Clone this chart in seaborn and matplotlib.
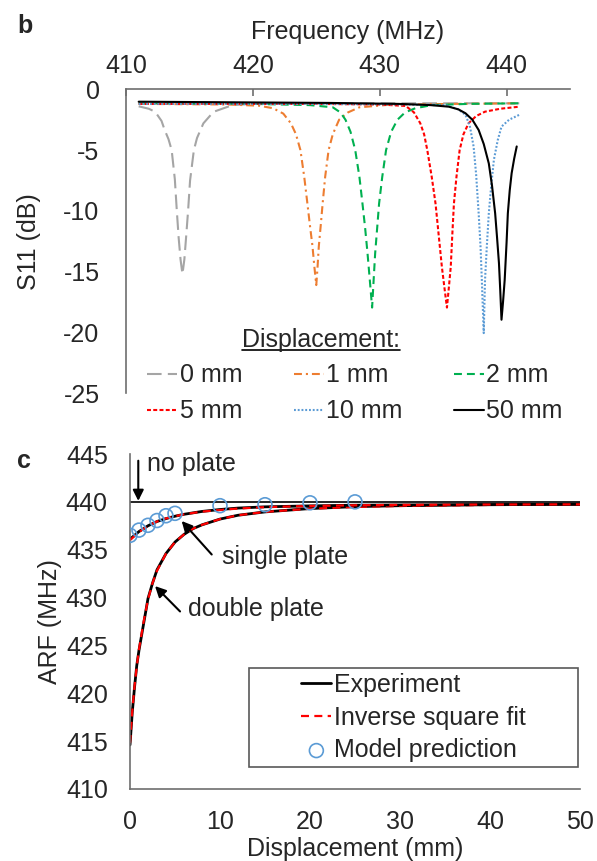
import numpy as np
import pandas as pd
import seaborn as sns
import matplotlib.pyplot as plt
from matplotlib.lines import Line2D
from matplotlib.patches import Rectangle

# ---- panel b : S11 vs frequency for each displacement ----
f_0mm = [411.0, 411.8, 412.3, 412.8, 413.05, 413.35, 413.6, 413.85, 414.0, 414.15, 414.3, 414.45,
         414.6, 414.75, 414.9, 415.05, 415.35, 415.6, 416.1, 416.9, 418.4, 420.0, 430.0, 441.0]
s_0mm = [-1.4, -1.6, -1.85, -2.6, -3.35, -4.1, -5.0, -7.4, -9.9, -12.2, -14.0, -15.2,
         -14.0, -12.0, -9.9, -7.5, -5.0, -4.0, -2.8, -1.85, -1.3, -1.2, -1.15, -1.15]

f_1mm = [411.0, 418.0, 420.5, 421.6, 422.4, 423.0, 423.4, 423.75, 424.05, 424.3, 424.5, 424.7, 424.85,
         425.0, 425.1, 425.2, 425.35, 425.5, 425.7, 425.97, 426.3, 426.8, 427.5, 428.4, 431.0, 441.0]
s_1mm = [-1.2, -1.25, -1.35, -1.56, -2.0, -2.8, -3.7, -5.0, -7.2, -9.4, -11.2, -12.9, -14.6,
         -16.1, -14.6, -12.9, -11.2, -9.4, -7.2, -5.0, -3.7, -2.5, -1.9, -1.48, -1.25, -1.15]

f_2mm = [411.0, 420.0, 424.5, 426.3, 426.9, 427.3, 427.7, 428.07, 428.4, 428.64, 428.85, 429.04, 429.22,
         429.4, 429.52, 429.64, 429.8, 429.95, 430.2, 430.5, 430.9, 431.4, 432.0, 432.8, 434.1, 437.0, 441.0]
s_2mm = [-1.15, -1.2, -1.3, -1.48, -1.9, -2.5, -3.5, -5.0, -7.2, -9.4, -11.4, -13.5, -15.7,
         -17.95, -15.7, -13.5, -11.4, -9.4, -7.2, -5.0, -3.5, -2.5, -1.9, -1.56, -1.3, -1.2, -1.15]

f_5mm = [411.0, 425.0, 430.0, 432.05, 432.7, 433.2, 433.5, 433.75, 434.1, 434.4, 434.65, 434.9, 435.1,
         435.3, 435.45, 435.6, 435.72, 435.85, 436.05, 436.3, 436.6, 437.0, 437.6, 438.3, 439.5, 441.0]
s_5mm = [-1.2, -1.2, -1.25, -1.37, -1.9, -2.8, -3.7, -5.0, -7.2, -9.4, -12.0, -14.6, -16.3,
         -17.95, -16.3, -14.6, -12.0, -9.4, -7.2, -5.0, -3.7, -2.8, -2.2, -1.84, -1.6, -1.43]

f_10mm = [411.0, 425.0, 432.0, 435.2, 436.2, 436.76, 437.1, 437.4, 437.6, 437.8, 437.95, 438.05,
          438.2, 438.3, 438.45, 438.6, 438.8, 439.0, 439.3, 439.6, 440.2, 441.0]
s_10mm = [-1.2, -1.2, -1.25, -1.3, -1.65, -2.1, -3.0, -4.7, -7.0, -10.2, -13.0, -15.7,
          -20.05, -15.7, -12.8, -10.2, -7.8, -5.8, -4.2, -3.07, -2.5, -2.1]

f_50mm = [411.0, 420.0, 426.0, 431.5, 434.0, 435.45, 436.2, 436.76, 437.3, 437.8, 438.2, 438.6, 438.85,
          439.1, 439.25, 439.4, 439.5, 439.6, 439.72, 439.85, 440.0, 440.1, 440.25, 440.4, 440.6, 440.8]
s_50mm = [-1.02, -1.08, -1.12, -1.2, -1.3, -1.43, -1.65, -1.97, -2.5, -3.35, -4.5, -6.1, -7.9,
          -10.2, -12.2, -14.3, -16.5, -18.95, -17.5, -15.7, -12.6, -10.2, -8.3, -6.9, -5.7, -4.7]

labels_b = ['0 mm', '1 mm', '2 mm', '5 mm', '10 mm', '50 mm']

# ---- panel c : ARF vs displacement ----
noplate_x = [0, 50]
noplate_y = [440.0, 440.0]

single_x = [0, 1, 2, 3, 4, 5, 6, 8, 10, 12, 15, 20, 25, 30, 40, 50]
single_exp = [436.1, 436.9, 437.5, 437.95, 438.25, 438.5, 438.7, 439.0, 439.2, 439.35, 439.48,
              439.58, 439.65, 439.68, 439.72, 439.75]
single_fit = [436.0, 436.85, 437.5, 437.95, 438.27, 438.5, 438.7, 438.98, 439.15, 439.3, 439.45,
              439.57, 439.64, 439.68, 439.72, 439.74]

double_x = [0, 0.25, 0.5, 0.75, 1, 1.5, 2, 2.5, 3, 4, 5, 6, 7, 8, 10, 12, 15, 20, 25, 30, 40, 50]
double_exp = [414.6, 418.0, 420.6, 422.9, 424.5, 427.2, 429.9, 431.5, 432.9, 434.6, 435.8, 436.6,
              437.2, 437.6, 438.2, 438.6, 438.95, 439.3, 439.5, 439.6, 439.7, 439.75]
double_fit = [414.8, 418.1, 420.7, 422.8, 424.6, 427.4, 429.8, 431.5, 432.8, 434.6, 435.8, 436.6,
              437.2, 437.6, 438.2, 438.6, 438.95, 439.28, 439.47, 439.57, 439.68, 439.73]

model_x = [0, 1, 2, 3, 4, 5, 10, 15, 20, 25]
model_y = [436.5, 437.05, 437.55, 438.05, 438.55, 438.8, 439.6, 439.7, 439.9, 440.0]

sns.set_theme(style='white')
plt.rcParams['font.family'] = ['Liberation Sans', 'DejaVu Sans']
plt.rcParams['font.size'] = 18
plt.rcParams['axes.unicode_minus'] = False
spine_col = '#6e6e6e'

fig = plt.figure(figsize=(5.97, 8.61), dpi=100)
W, H = 597, 861
ax1 = fig.add_axes([126 / W, 1 - 393.3 / H, 444 / W, 304 / H])
ax2 = fig.add_axes([130 / W, 1 - 789 / H, 450 / W, 335 / H])

# panel b curves
styles_b = [
    (f_0mm, s_0mm, '#a5a5a5', (0, (7.0, 3.0))),
    (f_1mm, s_1mm, '#ed7d31', (0, (3.8, 1.9, 1.0, 1.9))),
    (f_2mm, s_2mm, '#00b050', (0, (3.8, 2.4))),
    (f_5mm, s_5mm, '#ff0000', (0, (1.9, 1.1))),
    (f_10mm, s_10mm, '#5b9bd5', (0, (0.9, 0.9))),
    (f_50mm, s_50mm, 'black', '-'),
]
handles_b = []
for (fx, sy, col, ls), lab in zip(styles_b, labels_b):
    sns.lineplot(x=fx, y=sy, ax=ax1, color=col, linestyle=ls, lw=1.5)
    ln = ax1.lines[-1]
    ln.set_label(lab)
    handles_b.append(ln)

ax1.set_xlim(410, 445)
ax1.set_ylim(-25, 0)
ax1.set_xticks([410, 420, 430, 440])
ax1.set_yticks([0, -5, -10, -15, -20, -25])
ax1.xaxis.tick_top()
ax1.xaxis.set_label_position('top')
ax1.set_xlabel('Frequency (MHz)', fontsize=18, labelpad=11)
ax1.set_ylabel('S11 (dB)', fontsize=18, labelpad=16)
for s in ['bottom', 'right']:
    ax1.spines[s].set_visible(False)
for s in ['top', 'left']:
    ax1.spines[s].set_color(spine_col)
    ax1.spines[s].set_linewidth(1.2)
ax1.tick_params(axis='x', direction='in', length=5, width=1.2, color=spine_col, pad=8,
                labelsize=18, top=True, bottom=False)
ax1.tick_params(axis='y', direction='in', length=5, width=1.2, color=spine_col, pad=19, labelsize=18)

order = [0, 3, 1, 4, 2, 5]
leg1 = ax1.legend([handles_b[i] for i in order], [labels_b[i] for i in order], ncol=3,
                  loc='center', bbox_to_anchor=(0.516, 0.0), frameon=False, fontsize=18,
                  handlelength=1.2, handletextpad=0.1, columnspacing=2.05, labelspacing=0.48,
                  borderpad=0)
leg_title = fig.text(321 / W, 1 - 347 / H, 'Displacement:', ha='center', va='baseline', fontsize=18)

# panel c
sns.lineplot(x=noplate_x, y=noplate_y, ax=ax2, color='black', lw=1.2)
sns.lineplot(x=double_x, y=double_exp, ax=ax2, color='black', lw=2)
sns.lineplot(x=double_x, y=double_fit, ax=ax2, color='#ff0000', lw=1.6, linestyle=(0, (3.6, 2.4)))
sns.lineplot(x=single_x, y=single_exp, ax=ax2, color='black', lw=2)
h_exp = ax2.lines[-1]
sns.lineplot(x=single_x, y=single_fit, ax=ax2, color='#ff0000', lw=1.6, linestyle=(0, (3.6, 2.4)))
h_fit = ax2.lines[-1]
sns.scatterplot(x=model_x, y=model_y, ax=ax2, marker='o', s=100, facecolor='none',
                edgecolor='#5b9bd5', linewidth=1.2, zorder=5)
h_mod = ax2.collections[-1]
h_mod.set_facecolor('none')
h_mod.set_edgecolor('#5b9bd5')

ax2.set_xlim(0, 50)
ax2.set_ylim(410, 445)
ax2.set_xticks([0, 10, 20, 30, 40, 50])
ax2.set_yticks([410, 415, 420, 425, 430, 435, 440, 445])
ax2.set_xlabel('Displacement (mm)', fontsize=18, labelpad=2)
ax2.set_ylabel('ARF (MHz)', fontsize=18, labelpad=3)
for s in ['top', 'right']:
    ax2.spines[s].set_visible(False)
for s in ['bottom', 'left']:
    ax2.spines[s].set_color(spine_col)
    ax2.spines[s].set_linewidth(1.2)
ax2.tick_params(axis='x', direction='in', length=5, width=1.2, color=spine_col, pad=15, labelsize=18)
ax2.tick_params(axis='y', direction='in', length=5, width=1.2, color=spine_col, pad=16, labelsize=18)

arrow = dict(arrowstyle='-|>', color='black', lw=1.5, mutation_scale=16, shrinkA=0, shrinkB=0)
ax2.annotate('', xy=(0.92, 440.1), xytext=(0.92, 444.3), arrowprops=arrow)
ax2.text(1.85, 443.26, 'no plate', fontsize=18, va='baseline', ha='left')
ax2.annotate('', xy=(5.74, 438.0), xytext=(9.08, 434.5), arrowprops=arrow)
ax2.text(10.2, 433.46, 'single plate', fontsize=18, va='baseline', ha='left')
ax2.annotate('', xy=(2.78, 431.2), xytext=(5.56, 428.55), arrowprops=arrow)
ax2.text(6.48, 428.03, 'double plate', fontsize=18, va='baseline', ha='left')

ax2.legend([h_exp, h_fit, h_mod], ['Experiment', 'Inverse square fit', 'Model prediction'],
           loc='center', bbox_to_anchor=(0.630, 0.213), frameon=False, fontsize=18,
           handlelength=1.2, handletextpad=0.1, labelspacing=0.34, borderpad=0, scatterpoints=1)
ax2.add_patch(Rectangle((0.264, 0.0657), 0.7316, 0.2953, transform=ax2.transAxes, fill=False,
                        edgecolor='#595959', lw=1.2, zorder=6))

fig.text(17 / W, 1 - 33 / H, 'b', fontsize=18, fontweight='bold', va='baseline', ha='left')
fig.text(17 / W, 1 - 468 / H, 'c', fontsize=18, fontweight='bold', va='baseline', ha='left')

# underline the legend title
fig.canvas.draw()
bb = leg_title.get_window_extent(fig.canvas.get_renderer())
uy = (bb.y0 + 2) / H
fig.add_artist(Line2D([bb.x0 / W, bb.x1 / W], [uy, uy], transform=fig.transFigure,
                      color='black', lw=1.2))

fig.savefig('out.png', dpi=100)
